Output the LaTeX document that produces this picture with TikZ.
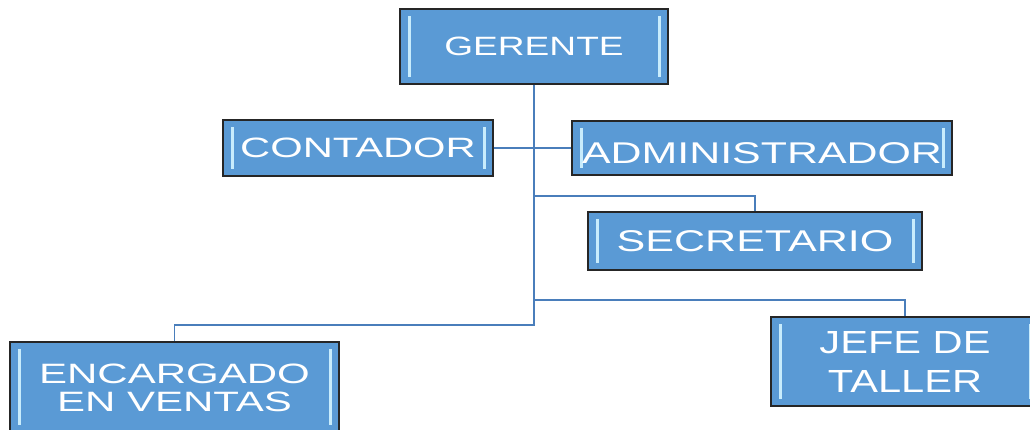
\documentclass[tikz,border=0pt]{standalone}
\usepackage{fontspec}
\setmainfont{Liberation Sans}
\usepackage{graphicx}
\definecolor{boxblue}{RGB}{90,154,213}
\definecolor{barc}{RGB}{200,236,252}
\definecolor{linec}{RGB}{74,126,187}
\newcommand\boxtxt[4]{\fontsize{#2}{#3}\selectfont\scalebox{#1}[1]{\begin{tabular}{@{}c@{}}#4\end{tabular}}}
\tikzset{
  orgbox/.style={draw=black!85, line width=1.2pt, fill=boxblue, inner sep=0pt,
    path picture={
      \draw[barc, line width=3pt] ([xshift=9pt,yshift=-7pt]path picture bounding box.north west) -- ([xshift=9pt,yshift=7pt]path picture bounding box.south west);
      \draw[barc, line width=3pt] ([xshift=-9pt,yshift=-7pt]path picture bounding box.north east) -- ([xshift=-9pt,yshift=7pt]path picture bounding box.south east);
    }},
  boxlabel/.style={text=white, inner sep=0pt},
  conn/.style={draw=linec, line width=1.6pt}
}
\begin{document}
\begin{tikzpicture}[x=1pt,y=-1pt]
\useasboundingbox (0,0) rectangle (1030,430);
\clip (0,0) rectangle (1030,430);
\node[orgbox, minimum width=268pt, minimum height=75pt] (g) at (534,46.5) {};
\node[orgbox, minimum width=270pt, minimum height=56pt] (c) at (358,148) {};
\node[orgbox, minimum width=380pt, minimum height=54pt] (a) at (762,148) {};
\node[orgbox, minimum width=334pt, minimum height=58pt] (s) at (755,241) {};
\node[orgbox, minimum width=329pt, minimum height=90pt] (e) at (174.5,387) {};
\node[orgbox, minimum width=268pt, minimum height=89pt] (j) at (905,361.5) {};
\node[boxlabel] (gt) at ([yshift=-3pt]g.center) {\boxtxt{1.4}{26.5}{28}{GERENTE}};
\node[boxlabel] (ct) at ([yshift=-4pt]c.center) {\boxtxt{1.49}{28}{30}{CONTADOR}};
\node[boxlabel] (at) at ([yshift=-9pt]a.center) {\boxtxt{1.43}{30}{32}{ADMINISTRADOR}};
\node[boxlabel] (st) at ([yshift=-4pt]s.center) {\boxtxt{1.436}{30}{32}{SECRETARIO}};
\node[boxlabel] (et) at ([yshift=-5pt]e.center) {\boxtxt{1.5}{28}{28}{ENCARGADO\\EN VENTAS}};
\node[boxlabel] (jt) at ([yshift=-4pt]j.center) {\boxtxt{1.3}{32}{39}{JEFE DE\\TALLER}};
\draw[conn] (g.south) -- (g.south |- 0,325) -| (e.north);
\draw[conn] (g.south |- 0,196) -| (s.north);
\draw[conn] (g.south |- 0,300) -| (j.north);
\draw[conn] (c.east) -- (a.west);
\end{tikzpicture}
\end{document}
